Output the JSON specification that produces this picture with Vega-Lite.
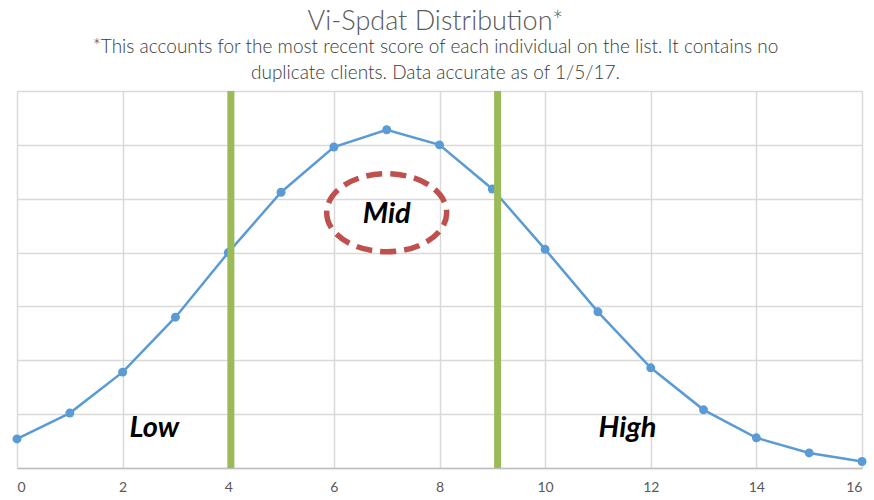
{
  "$schema": "https://vega.github.io/schema/vega-lite/v6.json",
  "autosize": "none",
  "width": 845,
  "height": 377,
  "padding": {"left": 17, "top": 91, "right": 12, "bottom": 32},
  "background": "white",
  "config": {"view": {"stroke": null}},
  "title": {
    "text": "Vi-Spdat Distribution*",
    "subtitle": ["*This accounts for the most recent score of each individual on the list. It contains no", "duplicate clients. Data accurate as of 1/5/17."],
    "anchor": "middle",
    "dx": -4,
    "font": "Lato",
    "fontSize": 27,
    "fontWeight": 300,
    "color": "#595959",
    "subtitleFont": "Lato",
    "subtitleFontSize": 19,
    "subtitleFontWeight": 300,
    "subtitleColor": "#3a3a3a",
    "subtitleLineHeight": 26,
    "subtitlePadding": 2,
    "offset": 4
  },
  "datasets": {
    "scores": [
      {"score": 0, "count": 27},
      {"score": 1, "count": 51},
      {"score": 2, "count": 89},
      {"score": 3, "count": 140},
      {"score": 4, "count": 200},
      {"score": 5, "count": 256},
      {"score": 6, "count": 298},
      {"score": 7, "count": 314},
      {"score": 8, "count": 300},
      {"score": 9, "count": 259},
      {"score": 10, "count": 203},
      {"score": 11, "count": 145},
      {"score": 12, "count": 93},
      {"score": 13, "count": 54},
      {"score": 14, "count": 28},
      {"score": 15, "count": 14},
      {"score": 16, "count": 6}
    ],
    "cutoffs": [{"score": 4.05}, {"score": 9.1}],
    "labels": [
      {"score": 2.6, "count": 37, "label": "Low"},
      {"score": 11.56, "count": 37, "label": "High"},
      {"score": 7.0, "count": 236, "label": "Mid"}
    ],
    "ring": [{"score": 7.0, "count": 237}]
  },
  "layer": [
    {
      "data": {"name": "scores"},
      "mark": {"type": "line", "color": "#5b9bd5", "strokeWidth": 2.5},
      "encoding": {
        "x": {
          "field": "score", "type": "quantitative",
          "scale": {"domain": [0, 16], "nice": false},
          "axis": {
            "title": null, "values": [0, 2, 4, 6, 8, 10, 12, 14, 16],
            "grid": true, "gridColor": "#d9d9d9", "gridWidth": 1.5,
            "domainColor": "#bfbfbf", "domainWidth": 1.5, "ticks": false,
            "labelColor": "#595959", "labelFont": "Lato", "labelFontSize": 14,
            "labelPadding": 12
          }
        },
        "y": {
          "field": "count", "type": "quantitative",
          "scale": {"domain": [0, 350], "nice": false},
          "axis": {
            "title": null, "values": [0, 50, 100, 150, 200, 250, 300, 350],
            "grid": true, "gridColor": "#d9d9d9", "gridWidth": 1.5,
            "domain": false, "ticks": false, "labels": false
          }
        }
      }
    },
    {
      "data": {"name": "scores"},
      "mark": {"type": "point", "filled": true, "color": "#5b9bd5", "size": 80, "opacity": 1},
      "encoding": {
        "x": {"field": "score", "type": "quantitative"},
        "y": {"field": "count", "type": "quantitative"}
      }
    },
    {
      "data": {"name": "cutoffs"},
      "mark": {"type": "rule", "color": "#9bbb59", "strokeWidth": 7},
      "encoding": {
        "x": {"field": "score", "type": "quantitative"}
      }
    },
    {
      "data": {"name": "ring"},
      "mark": {
        "type": "point",
        "shape": "M -1 0 A 1 0.65 0 1 0 1 0 A 1 0.65 0 1 0 -1 0 Z",
        "size": 14400,
        "filled": false,
        "stroke": "#c0504d",
        "strokeWidth": 5.5,
        "strokeDash": [16, 8],
        "opacity": 1
      },
      "encoding": {
        "x": {"field": "score", "type": "quantitative"},
        "y": {"field": "count", "type": "quantitative"}
      }
    },
    {
      "data": {"name": "labels"},
      "mark": {"type": "text", "font": "Lato", "fontSize": 29, "fontWeight": "bold", "fontStyle": "italic", "color": "black", "align": "center", "baseline": "middle"},
      "encoding": {
        "x": {"field": "score", "type": "quantitative"},
        "y": {"field": "count", "type": "quantitative"},
        "text": {"field": "label"}
      }
    }
  ]
}
